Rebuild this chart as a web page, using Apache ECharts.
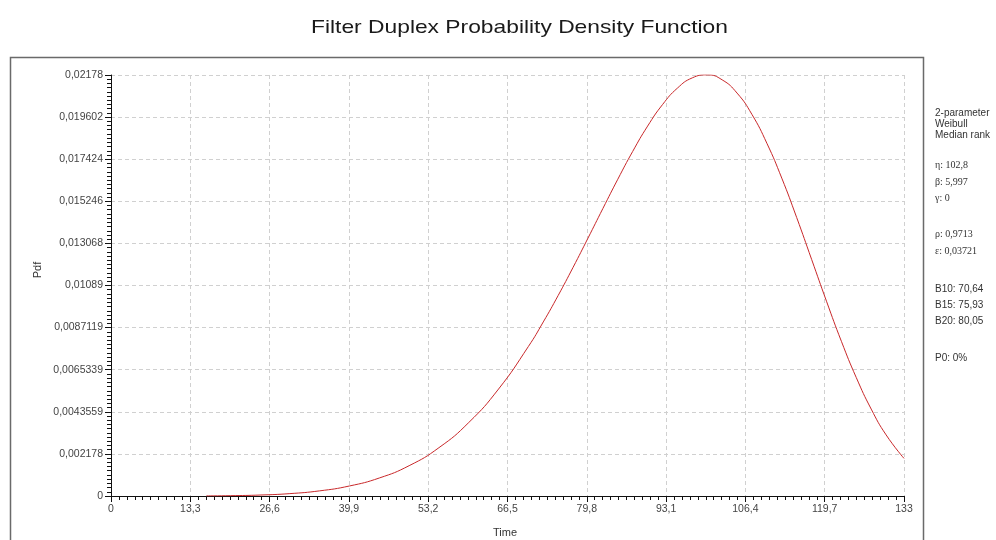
<!DOCTYPE html>
<html>
<head>
<meta charset="utf-8">
<script src="https://cdn.jsdelivr.net/npm/echarts@6/dist/echarts.min.js"></script>
<style>html,body{margin:0;padding:0;background:#fff}#c{width:996px;height:540px}</style>
</head>
<body>
<div id="c"></div>
<script>
// Data
var timeValues = [16, 20, 25, 30, 35, 40, 45, 50, 55, 60, 65, 70, 72.5, 75, 77.5, 80, 82.5, 85, 87.5, 90, 92.5, 95, 97.5, 100, 102.5, 105, 107.5, 110, 112.5, 115, 117.5, 120, 122.5, 125, 127.5, 130, 133];
var pdfValues = [0.0000053, 0.0000163, 0.0000496, 0.0001235, 0.0002666, 0.0005188, 0.0009316, 0.0015678, 0.0024994, 0.0038002, 0.0055339, 0.007734, 0.0090042, 0.010375, 0.01183, 0.013341, 0.014875, 0.016388, 0.017828, 0.019136, 0.020249, 0.021102, 0.021633, 0.021787, 0.02153, 0.020845, 0.019739, 0.018249, 0.016445, 0.014406, 0.012245, 0.010076, 0.0080019, 0.006124, 0.0044963, 0.003161, 0.0019456];
var yTickLabels = ['0', '0,002178', '0,0043559', '0,0065339', '0,0087119', '0,01089', '0,013068', '0,015246', '0,017424', '0,019602', '0,02178'];
var xTickLabels = ['0', '13,3', '26,6', '39,9', '53,2', '66,5', '79,8', '93,1', '106,4', '119,7', '133'];
var infoLines = [
  ['2-parameter', 113, 'sans'], ['Weibull', 124, 'sans'], ['Median rank', 135, 'sans'],
  ['\u03b7: 102,8', 165, 'serif'], ['\u03b2: 5,997', 182, 'serif'], ['\u03b3: 0', 198, 'serif'],
  ['\u03c1: 0,9713', 234, 'serif'], ['\u03b5: 0,03721', 251, 'serif'],
  ['B10: 70,64', 289, 'sans'], ['B15: 75,93', 305, 'sans'], ['B20: 80,05', 321, 'sans'],
  ['P0: 0%', 358, 'sans']
];
var titleText = 'Filter Duplex Probability Density Function';
var xName = 'Time', yName = 'Pdf';

var xStep = 13.3, yStep = 0.002178;
var seriesData = timeValues.map(function (t, i) { return [t, pdfValues[i]]; });

var graphics = [
  {type: 'rect', shape: {x: 10.5, y: 57.5, width: 913, height: 500}, style: {fill: 'none', stroke: '#6a6a6a', lineWidth: 1.5}, silent: true, z: -1},
  {type: 'text', x: 519.5, y: 28, scaleX: 1.2, style: {text: titleText, font: '19px "Liberation Sans", Arial, sans-serif', fill: '#1a1a1a', textAlign: 'center', textVerticalAlign: 'middle'}},
  {type: 'text', x: 505, y: 533, style: {text: xName, font: '11px "Liberation Sans", Arial, sans-serif', fill: '#333', textAlign: 'center', textVerticalAlign: 'middle'}},
  {type: 'text', x: 38, y: 270, rotation: Math.PI / 2, style: {text: yName, font: '11px "Liberation Sans", Arial, sans-serif', fill: '#333', textAlign: 'center', textVerticalAlign: 'middle'}}
];
infoLines.forEach(function (l) {
  graphics.push({type: 'text', x: 935, y: l[1], style: {text: l[0], font: (l[2] === 'serif' ? '10px "Liberation Serif", "DejaVu Serif", serif' : '10px "Liberation Sans", Arial, sans-serif'), fill: '#333', textAlign: 'left', textVerticalAlign: 'middle'}});
});

var chart = echarts.init(document.getElementById('c'), null, {renderer: 'canvas'});
chart.setOption({
  animation: false,
  backgroundColor: '#fff',
  grid: {left: 111, right: 92, top: 75, bottom: 44, containLabel: false},
  xAxis: {
    type: 'value', min: 0, max: 133, interval: xStep,
    axisLine: {lineStyle: {color: '#111', width: 1}},
    axisTick: {show: true, length: 6, lineStyle: {color: '#111'}},
    minorTick: {show: true, splitNumber: 10, length: 4, lineStyle: {color: '#111'}},
    axisLabel: {color: '#444', fontSize: 10.5, fontFamily: '"Liberation Sans", Arial, sans-serif', margin: 8, showMaxLabel: true,
      formatter: function (v) { return xTickLabels[Math.round(v / xStep)]; }},
    splitLine: {show: true, showMinLine: false, showMaxLine: true, lineStyle: {color: '#d0d0d0', type: [4, 3], width: 1}}
  },
  yAxis: {
    type: 'value', min: 0, max: 0.02178, interval: yStep,
    axisLine: {show: true, lineStyle: {color: '#111', width: 1}},
    axisTick: {show: true, length: 6, lineStyle: {color: '#111'}},
    minorTick: {show: true, splitNumber: 10, length: 4, lineStyle: {color: '#111'}},
    axisLabel: {color: '#444', fontSize: 10.5, fontFamily: '"Liberation Sans", Arial, sans-serif', margin: 8, showMaxLabel: true,
      formatter: function (v) { return yTickLabels[Math.round(v / yStep)]; }},
    splitLine: {show: true, showMinLine: false, showMaxLine: true, lineStyle: {color: '#d0d0d0', type: [4, 3], width: 1}}
  },
  series: [{
    type: 'line', data: seriesData, smooth: true, showSymbol: false,
    lineStyle: {color: '#c8282a', width: 1}
  }],
  graphic: graphics
});
</script>
</body>
</html>
